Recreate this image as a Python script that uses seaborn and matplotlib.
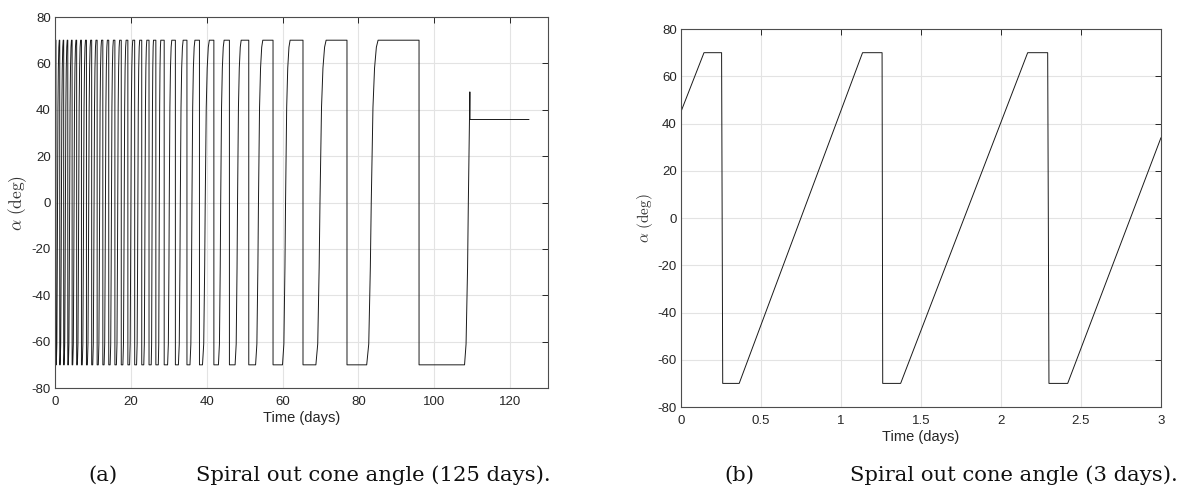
import matplotlib
matplotlib.use("Agg")
import matplotlib.pyplot as plt
import numpy as np
import pandas as pd
import seaborn as sns

# (a) 125 days: switching times (days)
# time the angle drops from +70 to -70
DROP_T = [0.26, 1.26, 2.30, 3.38, 4.52, 5.72, 6.98, 8.30, 9.68, 11.12,
          12.62, 14.18, 15.80, 17.48, 19.22, 21.02, 22.88, 24.80, 26.60, 28.80,
          31.75, 34.80, 38.10, 41.90, 46.00, 51.10, 57.50, 65.40, 77.00, 96.00]
# time the angle leaves -70 and starts rising
UP_T = [0.36, 1.37, 2.43, 3.53, 4.69, 5.91, 7.20, 8.55, 9.96, 11.43,
        12.96, 14.55, 16.20, 17.91, 19.68, 21.52, 23.42, 25.38, 27.25, 29.70,
        32.55, 35.60, 38.90, 43.10, 47.50, 52.90, 60.00, 68.80, 82.20]
# time the angle reaches +70 (before each drop)
TOP_T = [0.14, 1.135, 2.18, 3.23, 4.35, 5.53, 6.76, 8.05, 9.40, 10.81,
         12.28, 13.81, 15.40, 17.05, 18.76, 20.52, 22.34, 24.22, 25.98, 27.90,
         30.80, 33.80, 36.90, 40.70, 44.60, 49.10, 54.80, 62.00, 71.50, 85.20]
START_DEG = 45.0
ALPHA_MAX = 70.0
# shape of one rise (fraction of rise time -> angle)
RISE_FRAC = [0.0, 0.18, 0.32, 0.40, 0.55, 0.69, 0.85, 1.0]
RISE_DEG = [-70, -61, -28, 0, 41, 58, 67, 70]
# last segment: final rise, jump and hold
TAIL_T = [108.0, 108.4, 108.8, 109.0, 109.4, 109.45, 125.0]
TAIL_DEG = [-70, -61, -28, 0, 47.7, 35.8, 35.8]

# (b) first 3 days
SHORT_T = [0, 0.144, 0.254, 0.261, 0.364, 1.135, 1.257, 1.261, 1.373,
           2.167, 2.292, 2.300, 2.417, 3.0]
SHORT_DEG = [45, 70, 70, -70, -70, 70, 70, -70, -70, 70, 70, -70, -70, 34]

LINE = "#1a1a1a"
TICK_GREY = "#262626"


def long_history() -> pd.DataFrame:
    t = [0.0, TOP_T[0]]
    a = [START_DEG, ALPHA_MAX]
    for i, drop in enumerate(DROP_T):
        t += [drop, drop + 0.004]
        a += [ALPHA_MAX, -ALPHA_MAX]
        if i < len(UP_T):
            up, top = UP_T[i], TOP_T[i + 1]
            t += list(up + np.array(RISE_FRAC) * (top - up))
            a += RISE_DEG
    t += TAIL_T
    a += TAIL_DEG
    return pd.DataFrame({"time": t, "alpha": a})


def style_axis(ax, xticks, xlabels, xlim, ylabel_size):
    ax.set_xlim(*xlim)
    ax.set_ylim(-80, 80)
    ax.set_xticks(xticks)
    ax.set_xticklabels(xlabels)
    ax.set_yticks(range(-80, 81, 20))
    ax.set_yticklabels([str(v) for v in range(-80, 81, 20)])
    ax.grid(True, color="#e3e3e3", linewidth=0.8)
    ax.tick_params(direction="in", top=True, right=True, length=4,
                   width=0.7, colors=TICK_GREY, labelsize=9.5)
    ax.tick_params(axis="x", pad=6)
    ax.tick_params(axis="y", pad=3)
    for spine in ax.spines.values():
        spine.set_visible(True)
        spine.set_color("#4d4d4d")
        spine.set_linewidth(0.8)
    ax.set_xlabel("Time (days)", fontsize=10.5, color=TICK_GREY, labelpad=2)
    ax.set_ylabel(r"$\alpha\ \mathrm{(deg)}$", fontsize=ylabel_size,
                  color="#333333", labelpad=2)


sns.set_theme(style="white")
plt.rcParams.update({
    "font.family": ["Liberation Sans", "DejaVu Sans"],
    "mathtext.fontset": "cm",
    "axes.unicode_minus": False,
})

fig = plt.figure(figsize=(11.82, 4.96), dpi=100)
ax_a = fig.add_axes([0.0465, 0.2177, 0.4171, 0.748])
ax_b = fig.add_axes([0.5761, 0.1794, 0.4061, 0.762])

sns.lineplot(data=long_history(), x="time", y="alpha", sort=False,
             estimator=None, color=LINE, linewidth=0.7, ax=ax_a)
sns.lineplot(x=SHORT_T, y=SHORT_DEG, sort=False, estimator=None,
             color=LINE, linewidth=0.7, ax=ax_b)

style_axis(ax_a, range(0, 121, 20), [str(v) for v in range(0, 121, 20)],
           (0, 130), 12.5)
style_axis(ax_b, [0, 0.5, 1, 1.5, 2, 2.5, 3],
           ["0", "0.5", "1", "1.5", "2", "2.5", "3"], (0, 3), 11)

cap = dict(fontsize=15.2, family="DejaVu Serif", color="#111111",
           va="center")
fig.text(88 / 1182, 1 - 475 / 496, "(a)", ha="left", **cap)
fig.text(196 / 1182, 1 - 475 / 496, "Spiral out cone angle (125 days).",
         ha="left", **cap)
fig.text(724 / 1182, 1 - 475 / 496, "(b)", ha="left", **cap)
fig.text(1178 / 1182, 1 - 475 / 496, "Spiral out cone angle (3 days).",
         ha="right", **cap)

fig.savefig("out.png", dpi=100, facecolor="white")
